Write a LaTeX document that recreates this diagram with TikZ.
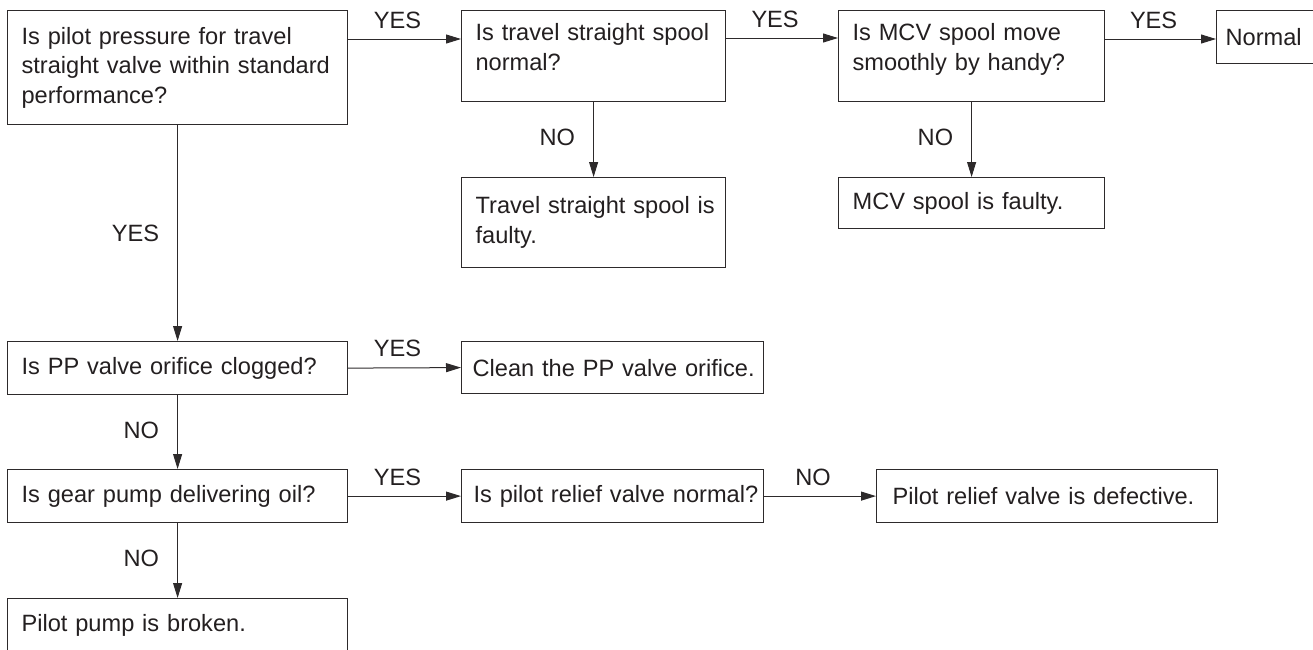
\documentclass[tikz,border=0pt]{standalone}
\usepackage{fontspec}
\setmainfont{Liberation Sans}
\usetikzlibrary{arrows.meta,calc}
\definecolor{ink}{RGB}{35,31,32}
\definecolor{frame}{RGB}{45,42,43}
\begin{document}
\begin{tikzpicture}[x=1pt,y=-1pt,
  every node/.style={font=\fontsize{23.6}{29.5}\selectfont, text=ink},
  box/.style={draw=frame, line width=1.2pt, anchor=north west, align=left,
    inner xsep=14pt, inner ysep=0pt,
    execute at begin node={\hfuzz=100pt\hbadness=10000}},
  sz/.style n args={3}{minimum width=#1pt, minimum height=#2pt, text width=#3pt},
  arr/.style={draw=frame, line width=1pt, -{Triangle[length=15pt,width=9pt]}},
  hlbl/.style={anchor=base, inner sep=0pt, xshift=-7pt, yshift=11pt},
  vlbl/.style={anchor=east, inner sep=0pt, xshift=-18pt, yshift=2pt}
]
% canvas
\useasboundingbox (0,0) rectangle (1313,649);
\clip (0,0) rectangle (1313,649);

% questions and outcomes
\node[box, sz={340}{114}{312}] (q1) at (7,10)
  {\mbox{Is pilot pressure for travel}\\\mbox{straight valve within standard}\\performance?};
\node[box, sz={264}{91}{236}] (q2) at (461,10)
  {\mbox{Is travel straight spool}\\normal?\rule[-18pt]{0pt}{0pt}};
\node[box, sz={264}{90}{236}] (f1) at (461,177)
  {\mbox{Travel straight spool is}\\faulty.};
\node[box, sz={266}{91}{238}] (q3) at (838,10)
  {\mbox{Is MCV spool move}\\\mbox{smoothly by handy?}\rule[-18pt]{0pt}{0pt}};
\node[box, sz={266}{51}{238}] (f2) at (838,177)
  {\mbox{MCV spool is faulty.}};
\node[box, sz={130}{53}{112}, inner xsep=9pt] (ok) at (1216,10) {Normal};

\node[box, sz={340}{53}{312}] (q4) at (7,341)
  {\mbox{Is PP valve orifice clogged?}};
\node[box, sz={302}{52}{280}, inner xsep=11pt] (cl) at (461,341)
  {\mbox{Clean the PP valve orifice.}};
\node[box, sz={340}{53}{312}] (q5) at (7,469)
  {\mbox{Is gear pump delivering oil?}};
\node[box, sz={302}{53}{278}, inner xsep=12pt] (q6) at (461,469)
  {\mbox{Is pilot relief valve normal?}};
\node[box, sz={341}{53}{309}, inner xsep=16pt] (f3) at (876,469)
  {\mbox{Pilot relief valve is defective.}};
\node[box, sz={340}{53}{312}] (f4) at (7,598)
  {\mbox{Pilot pump is broken.}};

% connectors
\draw[arr] ([yshift=-29pt]q1.north east) -- ([yshift=-29pt]q2.north west)
  node[hlbl, midway] (l1) {YES};
\draw[arr] ([yshift=-28pt]q2.north east) -- ([yshift=-28pt]q3.north west)
  node[hlbl, midway] (l2) {YES};
\draw[arr] ([yshift=-29pt]q3.north east) -- ([yshift=-29pt]ok.north west)
  node[hlbl, midway] (l3) {YES};
\draw[arr] (q2.south) -- (f1.north) node[vlbl, midway] (l4) {NO};
\draw[arr] (q3.south) -- (f2.north) node[vlbl, midway] (l5) {NO};
\draw[arr] (q1.south) -- (q4.north) node[vlbl, midway, yshift=-2pt] (l6) {YES};
\draw[arr] (q4.east) -- (cl.west) node[hlbl, midway] (l7) {YES};
\draw[arr] (q4.south) -- (q5.north) node[vlbl, midway] (l8) {NO};
\draw[arr] (q5.east) -- (q6.west) node[hlbl, midway] (l9) {YES};
\draw[arr] (q6.east) -- (f3.west) node[hlbl, midway] (l10) {NO};
\draw[arr] (q5.south) -- (f4.north) node[vlbl, midway] (l11) {NO};
\end{tikzpicture}
\end{document}
